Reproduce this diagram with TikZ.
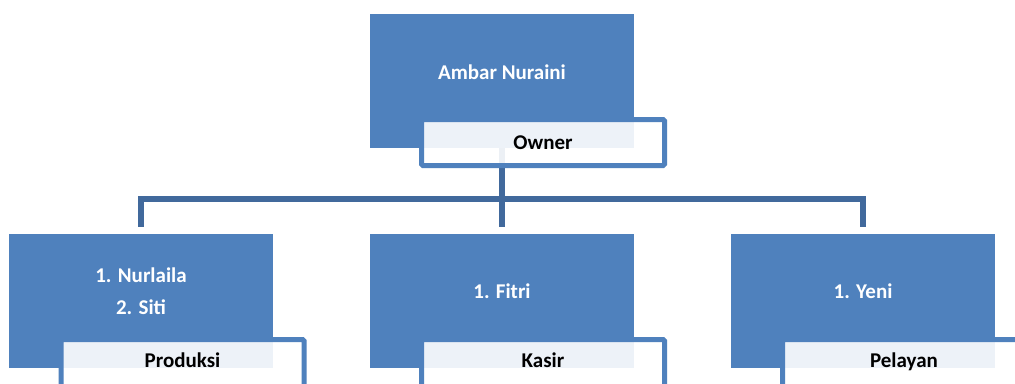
\documentclass[tikz,border=0pt]{standalone}
\usepackage{fontspec}
\setmainfont{Carlito}
\definecolor{boxblue}{HTML}{4F81BD}
\definecolor{connblue}{HTML}{41699C}
\begin{document}
\begin{tikzpicture}[x=1pt,y=-1pt,
  bluebox/.style={fill=boxblue, draw=none, minimum width=264pt, minimum height=134pt, inner sep=0pt},
  labelbox/.style={draw=boxblue, line width=5pt, fill=white, fill opacity=0.9, draw opacity=1, rounded corners=1.5pt, minimum width=243pt, minimum height=46pt, inner sep=0pt},
  labeltext/.style={text=black, inner sep=0pt, anchor=base, font=\fontsize{21}{32}\selectfont\bfseries},
  nametext/.style={text=white, align=center, inner sep=0pt, font=\fontsize{21}{32}\selectfont\bfseries},
  conn/.style={draw=connblue, line width=5.5pt}]
\useasboundingbox (0,0) rectangle (1015,383);
\clip (0,0) rectangle (1015,383);
\fill[white] (0,0) rectangle (1015,383);
% box positions
\coordinate (c0) at (502,81);
\coordinate (c1) at (141,300.5);
\coordinate (c2) at (502,300.5);
\coordinate (c3) at (863,300.5);
% connectors (drawn first)
\node[bluebox, fill=none] (p0) at (c0) {};
\node[bluebox, fill=none] (p1) at (c1) {};
\node[bluebox, fill=none] (p2) at (c2) {};
\node[bluebox, fill=none] (p3) at (c3) {};
\coordinate (hub) at (502,199);
\draw[conn] (p0.south) -- (hub);
\draw[conn] (hub) -| ([yshift=6pt]p1.north);
\draw[conn] (hub) -| ([yshift=6pt]p3.north);
\draw[conn] (hub) -- ([yshift=6pt]p2.north);
% blue boxes
\node[bluebox] (b0) at (c0) {};
\node[bluebox] (b1) at (c1) {};
\node[bluebox] (b2) at (c2) {};
\node[bluebox] (b3) at (c3) {};
% label boxes
\node[labelbox] (l0) at (543,142.5) {};
\node[labelbox, minimum height=52pt] (l1) at (182.5,365.5) {};
\node[labelbox, minimum height=52pt] (l2) at (543,365.5) {};
\node[labelbox, minimum height=52pt] (l3) at (904,365.5) {};
\node[labeltext] (lt0) at (543,149) {Owner};
\node[labeltext] (lt1) at (182.5,367) {Produksi};
\node[labeltext] (lt2) at (543,367) {Kasir};
\node[labeltext] (lt3) at (904,367) {Pelayan};
% names
\node[nametext] (t0) at ([yshift=9pt]b0.center) {Ambar Nuraini};
\node[nametext] (t1) at ([yshift=9.5pt]b1.center) {1. Nurlaila\\2. Siti};
\node[nametext] (t2) at ([yshift=9.5pt]b2.center) {1. Fitri};
\node[nametext] (t3) at ([yshift=9.5pt]b3.center) {1. Yeni};
\end{tikzpicture}
\end{document}
